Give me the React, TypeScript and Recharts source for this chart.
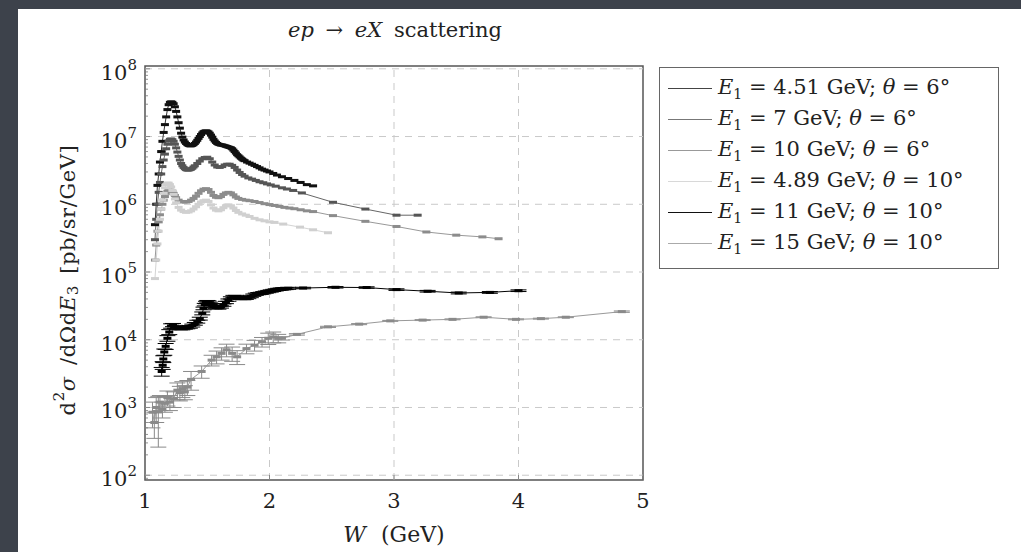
import React from 'react';
import { LineChart, Line, XAxis, YAxis, ReferenceLine, ReferenceArea, ErrorBar, Legend } from 'recharts';

const FONT = '"DejaVu Serif", serif';
const YMIN = 85;
const YMAX = 1.1e8;

// E1 = 4.51 GeV, theta = 6
const w451 = [1.08, 1.09, 1.10, 1.11, 1.12, 1.13, 1.14, 1.15, 1.16, 1.17, 1.18, 1.19, 1.20, 1.21, 1.22, 1.23, 1.24, 1.25, 1.26, 1.27, 1.28, 1.29, 1.30, 1.31, 1.32, 1.33, 1.34, 1.35, 1.36, 1.37, 1.38, 1.39, 1.40, 1.41, 1.42, 1.43, 1.44, 1.45, 1.46, 1.47, 1.48, 1.49, 1.50, 1.51, 1.52, 1.53, 1.54, 1.55, 1.56, 1.57, 1.58, 1.59, 1.60, 1.61, 1.62, 1.63, 1.64, 1.65, 1.66, 1.67, 1.68, 1.69, 1.70, 1.71, 1.72, 1.73, 1.74, 1.75, 1.76, 1.77, 1.78, 1.79, 1.80, 1.82, 1.84, 1.86, 1.88, 1.90, 1.92, 1.94, 1.96, 1.98, 2.00, 2.03, 2.06, 2.10, 2.15, 2.20, 2.25, 2.30, 2.35];
const s451 = [5e5, 1.0e6, 1.9e6, 2.8e6, 4.2e6, 6e6, 8.5e6, 1.15e7, 1.5e7, 1.95e7, 2.5e7, 2.95e7, 3.2e7, 3.25e7, 3.2e7, 3.05e7, 2.75e7, 2.35e7, 1.95e7, 1.6e7, 1.33e7, 1.12e7, 9.8e6, 8.9e6, 8.3e6, 7.9e6, 7.6e6, 7.4e6, 7.3e6, 7.3e6, 7.4e6, 7.6e6, 7.9e6, 8.3e6, 8.8e6, 9.4e6, 1.0e7, 1.07e7, 1.13e7, 1.18e7, 1.2e7, 1.21e7, 1.2e7, 1.17e7, 1.12e7, 1.05e7, 9.8e6, 9.1e6, 8.6e6, 8.2e6, 7.9e6, 7.7e6, 7.6e6, 7.5e6, 7.5e6, 7.4e6, 7.3e6, 7.2e6, 7.1e6, 7.0e6, 6.9e6, 6.8e6, 6.6e6, 6.3e6, 6.0e6, 5.7e6, 5.4e6, 5.2e6, 5.0e6, 4.8e6, 4.65e6, 4.5e6, 4.4e6, 4.2e6, 4.05e6, 3.9e6, 3.75e6, 3.6e6, 3.45e6, 3.3e6, 3.2e6, 3.1e6, 3.0e6, 2.85e6, 2.7e6, 2.55e6, 2.4e6, 2.25e6, 2.1e6, 1.95e6, 1.87e6];

// E1 = 7 GeV, theta = 6
const w7 = [1.08, 1.09, 1.10, 1.11, 1.12, 1.13, 1.14, 1.15, 1.16, 1.17, 1.18, 1.19, 1.20, 1.21, 1.22, 1.23, 1.24, 1.25, 1.26, 1.27, 1.28, 1.29, 1.30, 1.31, 1.32, 1.33, 1.34, 1.35, 1.36, 1.37, 1.38, 1.39, 1.40, 1.42, 1.44, 1.46, 1.48, 1.50, 1.52, 1.54, 1.56, 1.58, 1.60, 1.62, 1.64, 1.66, 1.68, 1.70, 1.72, 1.74, 1.76, 1.78, 1.80, 1.83, 1.86, 1.89, 1.92, 1.95, 1.98, 2.01, 2.05, 2.10, 2.14, 2.19, 2.26, 2.51, 2.77, 3.02, 3.19];
const s7 = [3e5, 6e5, 1.0e6, 1.5e6, 2.1e6, 2.8e6, 3.6e6, 4.5e6, 5.5e6, 6.6e6, 7.7e6, 8.6e6, 9.1e6, 9.2e6, 9.0e6, 8.5e6, 7.7e6, 6.8e6, 5.9e6, 5.1e6, 4.5e6, 4.0e6, 3.7e6, 3.5e6, 3.35e6, 3.25e6, 3.2e6, 3.2e6, 3.25e6, 3.3e6, 3.4e6, 3.55e6, 3.7e6, 4.0e6, 4.35e6, 4.7e6, 4.9e6, 4.95e6, 4.7e6, 4.2e6, 3.8e6, 3.55e6, 3.5e6, 3.6e6, 3.8e6, 3.9e6, 3.9e6, 3.75e6, 3.5e6, 3.2e6, 2.95e6, 2.75e6, 2.6e6, 2.45e6, 2.35e6, 2.25e6, 2.15e6, 2.08e6, 2.0e6, 1.93e6, 1.85e6, 1.75e6, 1.68e6, 1.6e6, 1.47e6, 1.07e6, 8.5e5, 6.9e5, 6.9e5];

// E1 = 10 GeV, theta = 6
const w10 = [1.08, 1.09, 1.10, 1.11, 1.12, 1.13, 1.14, 1.15, 1.16, 1.17, 1.18, 1.19, 1.20, 1.21, 1.22, 1.23, 1.24, 1.25, 1.27, 1.29, 1.31, 1.33, 1.35, 1.37, 1.39, 1.41, 1.43, 1.45, 1.47, 1.49, 1.51, 1.53, 1.55, 1.57, 1.59, 1.61, 1.63, 1.65, 1.67, 1.69, 1.71, 1.73, 1.75, 1.78, 1.81, 1.84, 1.88, 1.92, 1.96, 2.00, 2.04, 2.08, 2.12, 2.16, 2.20, 2.25, 2.30, 2.35, 2.51, 2.77, 3.02, 3.26, 3.50, 3.71, 3.84];
const s10 = [1.5e5, 2.5e5, 4e5, 5.5e5, 7e5, 8.5e5, 1.0e6, 1.15e6, 1.3e6, 1.45e6, 1.55e6, 1.6e6, 1.62e6, 1.6e6, 1.55e6, 1.45e6, 1.35e6, 1.25e6, 1.15e6, 1.1e6, 1.08e6, 1.08e6, 1.1e6, 1.15e6, 1.22e6, 1.32e6, 1.45e6, 1.58e6, 1.67e6, 1.7e6, 1.65e6, 1.5e6, 1.35e6, 1.27e6, 1.25e6, 1.3e6, 1.4e6, 1.47e6, 1.5e6, 1.47e6, 1.38e6, 1.28e6, 1.22e6, 1.18e6, 1.15e6, 1.13e6, 1.1e6, 1.06e6, 1.02e6, 9.9e5, 9.6e5, 9.3e5, 9.0e5, 8.8e5, 8.6e5, 8.3e5, 8.0e5, 7.8e5, 6.8e5, 5.6e5, 4.7e5, 3.9e5, 3.5e5, 3.3e5, 3.1e5];

// E1 = 4.89 GeV, theta = 10
const w489 = [1.08, 1.09, 1.10, 1.11, 1.12, 1.13, 1.14, 1.15, 1.16, 1.17, 1.18, 1.19, 1.20, 1.21, 1.22, 1.23, 1.24, 1.25, 1.27, 1.29, 1.31, 1.33, 1.35, 1.37, 1.39, 1.41, 1.43, 1.45, 1.47, 1.49, 1.51, 1.53, 1.55, 1.57, 1.59, 1.61, 1.63, 1.65, 1.67, 1.69, 1.71, 1.73, 1.75, 1.78, 1.81, 1.84, 1.88, 1.92, 1.96, 2.00, 2.04, 2.11, 2.245, 2.35, 2.47];
const s489 = [8e4, 1.5e5, 2.6e5, 4e5, 6e5, 8.5e5, 1.15e6, 1.45e6, 1.75e6, 1.95e6, 2.05e6, 2.05e6, 1.95e6, 1.8e6, 1.6e6, 1.4e6, 1.2e6, 1.05e6, 9e5, 8.2e5, 7.8e5, 7.6e5, 7.7e5, 8.0e5, 8.5e5, 9.2e5, 1.0e6, 1.08e6, 1.13e6, 1.15e6, 1.1e6, 9.8e5, 8.8e5, 8.2e5, 8.0e5, 8.3e5, 8.9e5, 9.5e5, 9.8e5, 9.5e5, 8.8e5, 8.1e5, 7.6e5, 7.2e5, 6.9e5, 6.6e5, 6.2e5, 5.9e5, 5.7e5, 5.5e5, 5.4e5, 5.1e5, 4.6e5, 4.2e5, 3.8e5];

// E1 = 11 GeV, theta = 10
const w11 = [1.134, 1.142, 1.147, 1.155, 1.166, 1.18, 1.195, 1.21, 1.225, 1.24, 1.26, 1.28, 1.30, 1.32, 1.34, 1.36, 1.38, 1.40, 1.42, 1.44, 1.46, 1.47, 1.48, 1.49, 1.50, 1.51, 1.52, 1.53, 1.55, 1.57, 1.59, 1.61, 1.63, 1.65, 1.67, 1.69, 1.71, 1.73, 1.75, 1.77, 1.79, 1.81, 1.83, 1.85, 1.87, 1.89, 1.91, 1.93, 1.95, 1.97, 1.99, 2.01, 2.03, 2.05, 2.07, 2.09, 2.11, 2.13, 2.15, 2.27, 2.53, 2.78, 3.02, 3.27, 3.52, 3.77, 4.0];
const s11 = [3.4e3, 4.2e3, 5.2e3, 6.6e3, 8e3, 1.05e4, 1.3e4, 1.6e4, 1.65e4, 1.55e4, 1.5e4, 1.47e4, 1.47e4, 1.5e4, 1.52e4, 1.55e4, 1.62e4, 1.72e4, 1.85e4, 2.05e4, 2.45e4, 2.9e4, 3.3e4, 3.55e4, 3.65e4, 3.6e4, 3.45e4, 3.3e4, 3.1e4, 3.0e4, 2.95e4, 3.05e4, 3.25e4, 3.55e4, 3.85e4, 4.15e4, 4.35e4, 4.35e4, 4.2e4, 4.1e4, 4.05e4, 4.1e4, 4.2e4, 4.35e4, 4.55e4, 4.7e4, 4.8e4, 4.85e4, 4.95e4, 5.05e4, 5.15e4, 5.25e4, 5.35e4, 5.45e4, 5.55e4, 5.6e4, 5.65e4, 5.7e4, 5.75e4, 5.8e4, 5.95e4, 5.9e4, 5.5e4, 5.2e4, 4.9e4, 5.0e4, 5.3e4];
const e11 = [500, 550, 600, 700, 800, 1000, 1100, 1200, 900, 800, 700, 700, 700, 700, 700, 700, 800, 800, 900, 1000, 1200, 1300, 1400, 1500, 1500, 1500, 1400, 1400, 1300, 1200, 1200, 1200, 1300, 1400, 1500, 1600, 1700, 1700, 1600, 1600, 1600, 1600, 1600, 1700, 1800, 1800, 1800, 1800, 1900, 1900, 2000, 2000, 2000, 2000, 2000, 2000, 2000, 2000, 2000, 1500, 1500, 1500, 1500, 1500, 1500, 1500, 1500];

// E1 = 15 GeV, theta = 10
const w15 = [1.06, 1.075, 1.09, 1.107, 1.12, 1.14, 1.16, 1.18, 1.20, 1.23, 1.26, 1.28, 1.30, 1.32, 1.34, 1.37, 1.455, 1.535, 1.575, 1.615, 1.655, 1.70, 1.74, 1.815, 1.88, 1.94, 1.99, 2.03, 2.07, 2.10, 2.22, 2.47, 2.72, 2.97, 3.23, 3.47, 3.72, 3.98, 4.18, 4.38, 4.83];
const s15 = [850, 600, 1000, 860, 1200, 950, 1150, 1400, 1200, 1350, 1800, 1650, 1900, 1700, 2000, 2600, 3400, 5000, 5600, 6300, 7100, 6300, 5600, 7400, 8300, 9300, 10500, 11000, 10500, 10500, 12000, 15500, 17000, 19000, 19500, 20000, 21500, 20000, 20500, 21500, 26000];
const e15 = [350, 250, 400, 600, 300, 250, 300, 350, 300, 350, 500, 400, 500, 400, 500, 800, 700, 900, 1200, 1300, 1500, 1500, 1300, 1200, 1500, 1500, 2000, 2000, 1500, 600, 300, 300, 300, 300, 300, 300, 300, 300, 300, 300, 600];

const yMajor = [1e2, 1e3, 1e4, 1e5, 1e6, 1e7, 1e8];
const yMinorFactors = [2, 3, 4, 5, 6, 7, 8, 9];
const xTicks = [1, 2, 3, 4, 5];
const xGrid = [2, 3, 4];

const yTicks = [90, ...yMajor.flatMap((m) => (m < 1e8 ? [m, ...yMinorFactors.map((f) => m * f)] : [m]))];

const build = (w: number[], s: number[], e?: number[]) =>
  w.map((x, i) => ({ w: x, v: s[i], e: e ? e[i] : 0 }));

const SERIES = [
  { id: 'a', E: '4.51', th: '6', data: build(w451, s451), color: '#333', mark: '#111', legend: '#444' },
  { id: 'b', E: '7', th: '6', data: build(w7, s7), color: '#666', mark: '#555', legend: '#777' },
  { id: 'c', E: '10', th: '6', data: build(w10, s10), color: '#999', mark: '#8c8c8c', legend: '#999' },
  { id: 'd', E: '4.89', th: '10', data: build(w489, s489), color: '#d4d4d4', mark: '#d0d0d0', legend: '#d8d8d8' },
  { id: 'e', E: '11', th: '10', data: build(w11, s11, e11), color: '#000', mark: '#000', legend: '#111', err: true },
  { id: 'f', E: '15', th: '10', data: build(w15, s15, e15), color: '#999', mark: '#8a8a8a', legend: '#aaa', err: true },
];

const isMajor = (v: number) => yMajor.includes(v);

const LeftTick = (props: any) => {
  const { x, y, payload } = props;
  const v = payload.value;
  const major = isMajor(v);
  const exp = Math.round(Math.log10(v));
  return (
    <g>
      <line x1={x} x2={x + (major ? 5 : 3)} y1={y} y2={y} stroke="#777" strokeWidth={0.8} />
      {major && (
        <text x={x - 8} y={y + 11} textAnchor="end" fontFamily={FONT} fontSize={21} fill="#222">
          10<tspan dy={-10} fontSize={15}>{exp}</tspan>
        </text>
      )}
    </g>
  );
};

const RightTick = (props: any) => {
  const { x, y, payload } = props;
  const major = isMajor(payload.value);
  return <line x1={x} x2={x - (major ? 5 : 3)} y1={y} y2={y} stroke="#777" strokeWidth={0.8} />;
};

const BottomTick = (props: any) => {
  const { x, y, payload } = props;
  return (
    <g>
      <line x1={x} x2={x} y1={y} y2={y - 5} stroke="#777" strokeWidth={0.8} />
      <text x={x} y={y + 28} textAnchor="middle" fontFamily={FONT} fontSize={21} fill="#222">
        {payload.value}
      </text>
    </g>
  );
};

const markDot = (color: string) => (p: any) => (
  <rect key={`m-${p.index}`} x={p.cx - 4} y={p.cy - 1.5} width={8} height={3} fill={color} />
);

const YLabel = (props: any) => {
  const vb = props.viewBox;
  const cx = vb.x + 68;
  const cy = vb.y + vb.height / 2 + 7;
  return (
    <text
      x={cx}
      y={cy}
      transform={`rotate(-90, ${cx}, ${cy})`}
      textAnchor="middle"
      dominantBaseline="central"
      fontFamily={FONT}
      fontSize={21}
      letterSpacing={0.6}
      wordSpacing={4}
      fill="#222"
    >
      d<tspan dy={-9} fontSize={15}>2</tspan>
      <tspan dy={9} fontStyle="italic">σ</tspan> /dΩd<tspan fontStyle="italic">E</tspan>
      <tspan dy={5} fontSize={15}>3</tspan>
      <tspan dy={-5}> [pb/sr/GeV]</tspan>
    </text>
  );
};

const XLabel = (props: any) => {
  const vb = props.viewBox;
  return (
    <text
      x={vb.x + vb.width / 2}
      y={vb.y + 62}
      textAnchor="middle"
      fontFamily={FONT}
      fontSize={22}
      wordSpacing={8}
      fill="#222"
    >
      <tspan fontStyle="italic">W</tspan> (GeV)
    </text>
  );
};

const LegendBox = () => (
  <div
    style={{
      border: '1.5px solid #666',
      background: '#fff',
      padding: '5px 0 8px 8px',
      fontFamily: FONT,
      fontSize: 21,
      color: '#222',
      boxSizing: 'border-box',
      width: 340,
      height: 202,
    }}
  >
    {SERIES.map((s) => (
      <div key={s.id} style={{ display: 'flex', alignItems: 'center', height: 31, whiteSpace: 'nowrap' }}>
        <span style={{ display: 'inline-block', width: 44, height: 0, borderTop: `1.2px solid ${s.legend}`, marginRight: 6 }} />
        <span>
          <i>E</i>
          <sub style={{ fontSize: 14 }}>1</sub> = {s.E} GeV; <i>θ</i> = {s.th}°
        </span>
      </div>
    ))}
  </div>
);

export default function App() {
  return (
    <div style={{ position: 'fixed', left: 0, top: 0, width: 1021, height: 552, background: '#3d424b', overflow: 'hidden' }}>
      <div style={{ position: 'absolute', left: 18, top: 9, right: 0, bottom: 0, background: '#fff' }} />
      <div
        style={{
          position: 'absolute',
          left: 0,
          top: 16,
          width: 790,
          textAlign: 'center',
          fontFamily: FONT,
          fontSize: 21,
          lineHeight: '28px',
          wordSpacing: 5,
          color: '#222',
        }}
      >
        <i>ep</i> → <i>eX</i> scattering
      </div>
      <div style={{ position: 'absolute', left: 0, top: 0 }}>
        <LineChart width={1021} height={552} margin={{ top: 66, right: 378, bottom: 42, left: 0 }}>
          <XAxis
            dataKey="w"
            type="number"
            domain={[1, 5]}
            ticks={xTicks}
            allowDataOverflow
            height={30}
            axisLine={false}
            tickLine={false}
            tickSize={0}
            tickMargin={0}
            interval={0}
            tick={<BottomTick />}
            label={<XLabel />}
          />
          <YAxis
            yAxisId="L"
            type="number"
            scale="log"
            domain={[YMIN, YMAX]}
            allowDataOverflow
            ticks={yTicks}
            width={145}
            axisLine={false}
            tickLine={false}
            tickSize={0}
            tickMargin={0}
            interval={0}
            tick={<LeftTick />}
            label={<YLabel />}
          />
          <YAxis
            yAxisId="R"
            orientation="right"
            type="number"
            scale="log"
            domain={[YMIN, YMAX]}
            allowDataOverflow
            ticks={yTicks}
            width={0}
            axisLine={false}
            tickLine={false}
            tickSize={0}
            tickMargin={0}
            interval={0}
            tick={<RightTick />}
          />
          {yMajor.map((v) => (
            <ReferenceLine key={`gy${v}`} yAxisId="L" y={v} stroke="#c9c9c9" strokeDasharray="7 6" />
          ))}
          {xGrid.map((v) => (
            <ReferenceLine key={`gx${v}`} yAxisId="L" x={v} stroke="#c9c9c9" strokeDasharray="7 6" />
          ))}
          {SERIES.map((s) => (
            <Line
              key={s.id}
              yAxisId="L"
              data={s.data}
              dataKey="v"
              type="linear"
              stroke={s.color}
              strokeWidth={1}
              dot={markDot(s.mark)}
              activeDot={false}
              isAnimationActive={false}
            >
              {s.err && <ErrorBar dataKey="e" width={8} stroke={s.mark} strokeWidth={1} direction="y" />}
            </Line>
          ))}
          <ReferenceArea
            yAxisId="L"
            x1={1}
            x2={5}
            y1={YMIN}
            y2={YMAX}
            fill="none"
            stroke="#555"
            strokeWidth={1.5}
            ifOverflow="visible"
          />
          <Legend
            layout="vertical"
            align="center"
            verticalAlign="middle"
            content={<LegendBox />}
            wrapperStyle={{ left: 659, top: 67, width: 340, height: 202 }}
          />
        </LineChart>
      </div>
    </div>
  );
}
